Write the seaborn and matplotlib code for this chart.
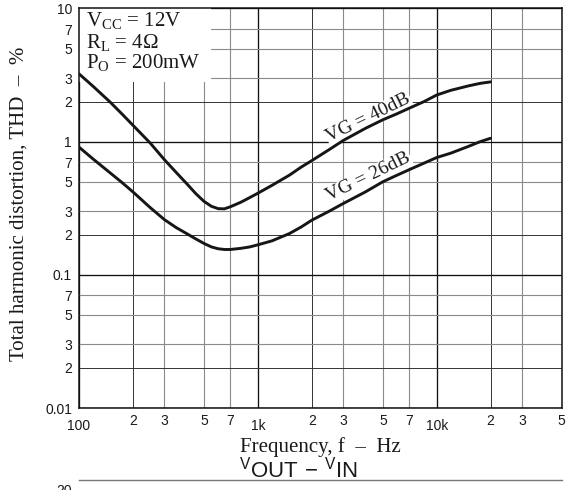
import numpy as np
import pandas as pd
import matplotlib
matplotlib.use("Agg")
import matplotlib.pyplot as plt
import seaborn as sns
from matplotlib.ticker import FixedLocator, FixedFormatter
from matplotlib.patches import Rectangle

# data (THD in %, frequency in Hz)
freq = [100, 120, 150, 175, 200, 250, 300, 350, 400, 450, 500, 550, 600, 650,
        700, 800, 900, 1000, 1200, 1500, 1750, 2000, 2500, 3000, 4000, 5000,
        6000, 7000, 8500, 10000, 12000, 15000, 17500, 20000]
thd_40db = [3.23, 2.60, 1.97, 1.60, 1.33, 0.977, 0.733, 0.586, 0.484, 0.407, 0.356,
            0.327, 0.314, 0.313, 0.324, 0.35, 0.38, 0.41, 0.47, 0.56, 0.645, 0.72,
            0.87, 1.02, 1.26, 1.46, 1.62, 1.78, 2.0, 2.24, 2.43, 2.62, 2.74, 2.81]
thd_26db = [0.91, 0.74, 0.58, 0.49, 0.42, 0.32, 0.26, 0.226, 0.204, 0.186, 0.172,
            0.162, 0.157, 0.155, 0.155, 0.158, 0.162, 0.168, 0.18, 0.204, 0.229,
            0.257, 0.30, 0.343, 0.42, 0.50, 0.56, 0.615, 0.69, 0.76, 0.82, 0.92,
            1.0, 1.06]
gain_labels = ["VG = 40dB", "VG = 26dB"]

x_major = [100, 1000, 10000]
x_major_labels = ["100", "1k", "10k"]
x_minor = [200, 300, 500, 700, 2000, 3000, 5000, 7000, 20000, 30000, 50000]
x_minor_labels = ["2", "3", "5", "7", "2", "3", "5", "7", "2", "3", "5"]
y_major = [0.01, 0.1, 1, 10]
y_major_labels = ["0.01", "0.1", "1", "10"]
y_minor = [0.02, 0.03, 0.05, 0.07, 0.2, 0.3, 0.5, 0.7, 2, 3, 5, 7]
y_minor_labels = ["2", "3", "5", "7"] * 3

conditions = [r"V$_{\mathrm{CC}}$ = 12V", r"R$_{\mathrm{L}}$ = 4$\Omega$",
              r"P$_{\mathrm{O}}$ = 200mW"]

df = pd.concat([
    pd.DataFrame({"freq": freq, "thd": thd_40db, "gain": gain_labels[0]}),
    pd.DataFrame({"freq": freq, "thd": thd_26db, "gain": gain_labels[1]}),
])

sns.set_theme(style="white")
plt.rcParams["font.family"] = ["Liberation Sans", "DejaVu Sans"]
plt.rcParams["mathtext.fontset"] = "custom"
plt.rcParams["mathtext.rm"] = "Liberation Serif"
plt.rcParams["mathtext.sf"] = "Liberation Sans"
serif = ["Liberation Serif", "DejaVu Serif"]

fig = plt.figure(figsize=(5.66, 4.90), dpi=100)
ax = fig.add_axes([0.1396, 0.1673, 0.8528, 0.8154])
ax.set_xscale("log")
ax.set_yscale("log")
ax.set_xlim(100, 50000)
ax.set_ylim(0.01, 10)

sns.lineplot(data=df, x="freq", y="thd", hue="gain", palette=["#161616", "#161616"],
             estimator=None, sort=False, legend=False, linewidth=2.1, ax=ax, zorder=3)

ax.xaxis.set_major_locator(FixedLocator(x_major))
ax.xaxis.set_major_formatter(FixedFormatter(x_major_labels))
ax.xaxis.set_minor_locator(FixedLocator(x_minor))
ax.xaxis.set_minor_formatter(FixedFormatter(x_minor_labels))
ax.yaxis.set_major_locator(FixedLocator(y_major))
ax.yaxis.set_major_formatter(FixedFormatter(y_major_labels))
ax.yaxis.set_minor_locator(FixedLocator(y_minor))
ax.yaxis.set_minor_formatter(FixedFormatter(y_minor_labels))

ax.tick_params(axis="both", which="both", length=0, labelsize=10, colors="#1a1a1a")
ax.tick_params(axis="x", which="major", pad=8)
ax.tick_params(axis="x", which="minor", pad=4)
ax.tick_params(axis="y", which="both", pad=5)

ax.grid(which="major", color="#111111", linewidth=0.95)
ax.grid(which="minor", color="#8a8a8a", linewidth=0.8)
ax.set_axisbelow(True)
# the "2" lines are printed darker and thinner
for ticks, vals in ((ax.xaxis.get_minor_ticks(), x_minor), (ax.yaxis.get_minor_ticks(), y_minor)):
    for t, v in zip(ticks, vals):
        if str(v).lstrip("0.").startswith("2"):
            t.gridline.set_color("#333333")
            t.gridline.set_linewidth(0.7)

for s in ax.spines.values():
    s.set_visible(True)
    s.set_color("#111111")
    s.set_linewidth(1.1)

ax.set_xlabel("Frequency, f  \u2013  Hz", fontsize=15, family=serif, color="#1a1a1a")
ax.set_ylabel("Total harmonic distortion, THD  \u2013  %", fontsize=15, family=serif,
              color="#1a1a1a")
ax.xaxis.set_label_coords(0.5, -0.072)
ax.yaxis.set_label_coords(-0.104, 0.51)

# conditions box in the upper left corner
ax.add_patch(Rectangle((0, 0.816), 0.273, 0.184, transform=ax.transAxes,
                       facecolor="white", edgecolor="none", zorder=2.2))
for txt, yy in zip(conditions, [0.954, 0.900, 0.850]):
    ax.text(0.0145, yy, txt, transform=ax.transAxes, fontsize=15, family=serif,
            va="baseline", ha="left", color="#1a1a1a", zorder=2.3)

# curve labels
for txt, fx, fy in zip(gain_labels, [4160, 4160], [1.50, 0.54]):
    ax.text(fx, fy, txt, rotation=26, ha="center", va="center", fontsize=14,
            family=serif, color="#1a1a1a", zorder=2.5,
            bbox=dict(facecolor="white", edgecolor="none", pad=0.5))

# top of the next chart on the page
ax2 = fig.add_axes([0.1396, -0.2, 0.8528, 0.2 + 10 / 490])
ax2.set_xticks([])
ax2.set_yticks([])
ax2.patch.set_alpha(0)
for name, s in ax2.spines.items():
    s.set_visible(name == "top")
ax2.spines["top"].set_color("#777777")
ax2.spines["top"].set_linewidth(1.0)
fig.text(0.527, 1 - 477 / 490, r"${}^{\mathsf{V}}\mathsf{OUT}\ \mathsf{-}\ {}^{\mathsf{V}}\mathsf{IN}$",
         fontsize=16, ha="center", va="baseline", color="#1a1a1a")
fig.text(64 / 566, 1 - 484 / 490, "20", fontsize=10, ha="center", va="top", color="#1a1a1a")

fig.savefig("out.png", dpi=100)
